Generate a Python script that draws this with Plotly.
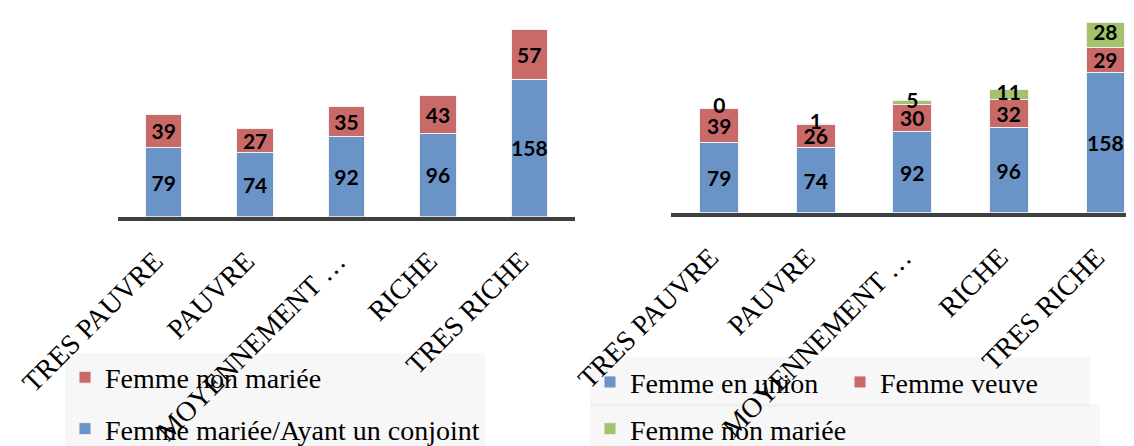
import plotly.graph_objects as go

W, H = 1134, 446

categories = ["TRES PAUVRE", "PAUVRE", "MOYENNEMENT …", "RICHE", "TRES RICHE"]

# left panel
left_married = [79, 74, 92, 96, 158]
left_unmarried = [39, 27, 35, 43, 57]

# right panel
right_union = [79, 74, 92, 96, 158]
right_widow = [39, 26, 30, 32, 29]
right_unmarried = [0, 1, 5, 11, 28]

BLUE = "#6A94C8"
RED = "#C96A68"
GREEN = "#A3C26B"
LABEL_FONT = dict(family="Lato", size=21, color="black", weight="bold")
SERIF = "Liberation Serif"


def bar(x, y, name, color, xa, ya, legend, group, rank):
    return go.Bar(
        x=x, y=y, name=name, marker=dict(color=color, line=dict(color="#F2F2F2", width=1)),
        text=y, textposition="inside", insidetextanchor="middle", constraintext="none",
        textangle=0, textfont=LABEL_FONT, xaxis=xa, yaxis=ya, legend=legend,
        legendgroup=group, legendrank=rank, hoverinfo="x+y+name",
    )


fig = go.Figure()
fig.add_trace(bar(categories, left_married, "Femme mariée/Ayant un conjoint", BLUE, "x", "y", "legend", "a", 2))
fig.add_trace(bar(categories, left_unmarried, "Femme non mariée", RED, "x", "y", "legend", "b", 1))

fig.add_trace(bar(categories, right_union, "Femme en union", BLUE, "x2", "y2", "legend2", "c", 1))
fig.add_trace(bar(categories, right_widow, "Femme veuve", RED, "x2", "y2", "legend2", "d", 2))
green = bar(categories, right_unmarried, "Femme non mariée", GREEN, "x2", "y2", "legend3", "e", 3)
green.update(textposition="none")
fig.add_trace(green)

# labels of the thin green segments (zero height bars drop inside text)
tops = [u + w + g / 2 for u, w, g in zip(right_union, right_widow, right_unmarried)]
fig.add_trace(go.Scatter(
    x=categories, y=tops, mode="text", text=[str(v) for v in right_unmarried],
    textposition="middle center", textfont=LABEL_FONT, xaxis="x2", yaxis="y2",
    showlegend=False, hoverinfo="skip",
))

xcommon = dict(
    type="category", showline=True, linecolor="#404040", linewidth=4, ticks="",
    tickangle=-45, tickfont=dict(family=SERIF, size=28, color="black"),
    ticklabelstandoff=13, ticklabelshift=-9,
    showgrid=False, zeroline=False, automargin=False, fixedrange=True,
)
ycommon = dict(visible=False, showgrid=False, zeroline=False, fixedrange=True)

legend_common = dict(
    bgcolor="rgba(0,0,0,0.03)", font=dict(family=SERIF, size=28, color="black"),
    xanchor="left", yanchor="top", itemwidth=30, borderwidth=0,
)

fig.update_layout(
    width=W, height=H,
    margin=dict(l=0, r=0, t=0, b=0),
    paper_bgcolor="white", plot_bgcolor="white",
    barmode="stack", bargap=0.6,
    xaxis=dict(xcommon, domain=[110 / W, 567 / W], range=[-0.5, 4.5], anchor="y"),
    yaxis=dict(ycommon, domain=[1 - 221 / H, 1], range=[0, 240], anchor="x"),
    xaxis2=dict(xcommon, domain=[663 / W, 1], range=[-0.5, 4.38], anchor="y2"),
    yaxis2=dict(ycommon, domain=[1 - 217 / H, 1], range=[0, 231], anchor="x2"),
    legend=dict(legend_common, x=57 / W, y=1 - 365 / H, orientation="v",
                traceorder="grouped", tracegroupgap=12),
    legend2=dict(legend_common, x=582 / W, y=1 - 370 / H, orientation="h", entrywidth=205),
    legend3=dict(legend_common, x=582 / W, y=1 - 420 / H, orientation="h", entrywidth=465),
    showlegend=True,
)

fig.write_html("out.html")
